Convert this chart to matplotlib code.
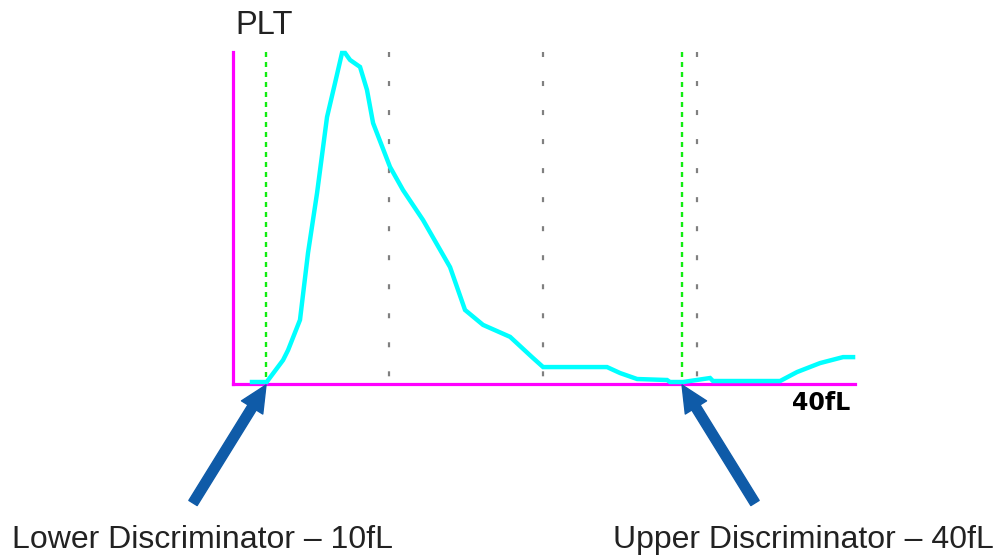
import matplotlib
matplotlib.use("Agg")

import matplotlib.pyplot as plt

plt.rcParams["font.family"] = ["Liberation Sans", "DejaVu Sans"]
plt.rcParams["lines.scale_dashes"] = False

# ===== PLT histogram (volume in fL, relative count in %) =====
volume_fl = [8.99, 10.05, 11.23, 11.59, 12.45, 13.03, 13.68, 14.40, 14.98, 15.48,
             15.70, 16.06, 16.78, 17.28, 17.72, 18.94, 19.88, 21.32, 23.27, 24.35,
             25.65, 27.60, 29.18, 29.98, 34.59, 35.53, 36.76, 38.92, 39.13, 40.07,
             42.02, 42.23, 47.07, 48.29, 49.95, 51.61, 52.33]
rel_count = [0.6, 0.6, 7.2, 10.2, 19.3, 39.5, 57.5, 80.4, 90.7, 99.7,
             99.7, 97.6, 95.5, 88.6, 78.6, 65.4, 58.4, 49.4, 35.2, 22.3,
             17.8, 14.2, 8.1, 5.1, 5.1, 3.3, 1.5, 1.2, 0.6, 0.6,
             1.8, 0.9, 0.9, 3.6, 6.3, 8.1, 8.1]

discriminators = [10.0, 40.0]
grid_marks = [18.9, 30.0, 41.1]
discriminator_labels = ["Lower Discriminator \u2013 10fL", "Upper Discriminator \u2013 40fL"]
x_range = (7.62, 52.47)

W, H = 1004, 558
fig = plt.figure(figsize=(W / 100, H / 100), dpi=100)
ax = fig.add_axes([233 / W, (H - 384) / H, (855 - 233) / W, (384 - 52) / H])
ax.set_xlim(*x_range)
ax.set_ylim(0, 100)
ax.patch.set_alpha(0)

for side in ["top", "right"]:
    ax.spines[side].set_visible(False)
for side in ["left", "bottom"]:
    ax.spines[side].set_color("#ff00ff")
    ax.spines[side].set_linewidth(2.3)
ax.set_xticks([])
ax.set_yticks([])

for gx in grid_marks:
    ax.plot([gx, gx], [100, 1], color="#808080", lw=1.6,
            linestyle=(0, (3.6, 17.3)), zorder=1)

for dx in discriminators:
    ax.plot([dx, dx], [100, 0], color="#11ee11", lw=1.7,
            linestyle=(0, (3.6, 3.6)), zorder=2)

ax.plot(volume_fl, rel_count, color="#00ffff", lw=3.2,
        solid_joinstyle="miter", zorder=3, clip_on=False)

# ===== 文字 =====
fig.text(235 / W, 1 - 34 / H, "PLT", fontsize=23.5, color="#222222", va="baseline")
fig.text(850 / W, 1 - 410 / H, "40fL", fontsize=17, fontweight="bold",
         family="DejaVu Sans", color="black", ha="right", va="baseline")

tails = [(193 / W, 1 - 503 / H), (755 / W, 1 - 503 / H)]
label_x = [12 / W, 613 / W]
for dx, tail, lx, label in zip(discriminators, tails, label_x, discriminator_labels):
    ax.annotate("", xy=(dx, -0.3), xycoords="data",
                xytext=tail, textcoords="figure fraction",
                arrowprops=dict(facecolor="#0f5ba8", edgecolor="#0f5ba8",
                                width=7.0, headwidth=18, headlength=19, shrink=0),
                annotation_clip=False)
    fig.text(lx, 1 - 548 / H, label, fontsize=23, color="#222222", va="baseline")

plt.savefig("out.png", dpi=100)
plt.close()
